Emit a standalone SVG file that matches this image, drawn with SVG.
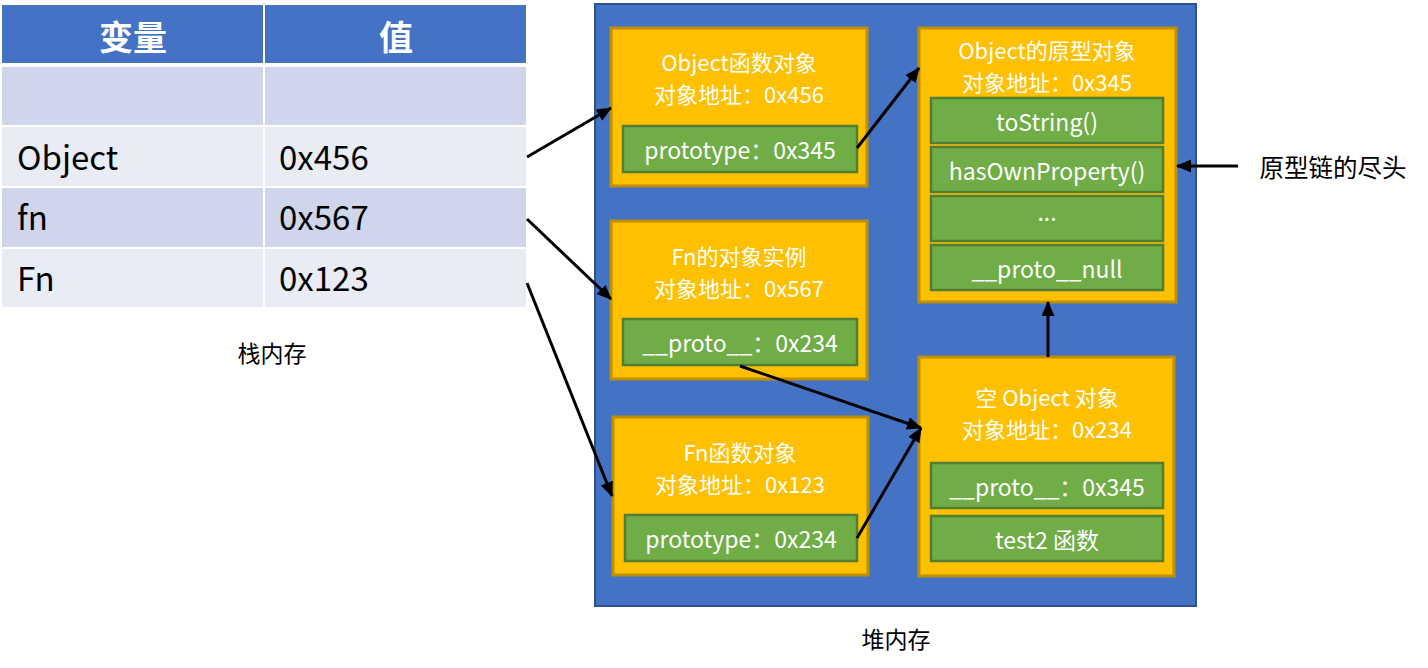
<svg xmlns="http://www.w3.org/2000/svg" width="1428" height="668" viewBox="0 0 1428 668">
<style>
text{font-family:"Noto Sans CJK SC","Noto Sans",sans-serif;}
.hd{fill:#4472C4;}
.r1{fill:#CFD5EA;}
.r2{fill:#E9EBF5;}
.ht{fill:#fff;font-size:34px;font-weight:bold;text-anchor:middle;dominant-baseline:central;}
.tt{fill:#000;font-size:33px;dominant-baseline:central;}
.lbl{fill:#000;font-size:23px;text-anchor:middle;dominant-baseline:central;}
.heap{fill:#4472C4;stroke:#2F528F;stroke-width:2;}
.obj{fill:#FFC000;stroke:#BF9000;stroke-width:3;}
.fld{fill:#70AD47;stroke:#507E32;stroke-width:2.5;}
.wt{fill:#fff;font-size:23px;text-anchor:middle;dominant-baseline:central;}
.wh{fill:#fff;font-size:22px;text-anchor:middle;dominant-baseline:central;}
.conn line{stroke:#000;stroke-width:3;marker-end:url(#ah);}
</style>
<defs>
<marker id="ah" markerUnits="userSpaceOnUse" markerWidth="16" markerHeight="14" refX="14" refY="6.5" orient="auto">
<path d="M0,0 L15,6.5 L0,13 z" fill="#000"/>
</marker>
</defs>
<rect width="1428" height="668" fill="#fff"/>

<g id="stack-table">
<rect class="hd" x="2" y="5" width="261" height="58"/>
<rect class="hd" x="265" y="5" width="261" height="58"/>
<text class="ht" x="133" y="35">变量</text>
<text class="ht" x="396" y="35">值</text>
<rect class="r1" x="2" y="67" width="261" height="58"/>
<rect class="r1" x="265" y="67" width="261" height="58"/>
<rect class="r2" x="2" y="127" width="261" height="59"/>
<rect class="r2" x="265" y="127" width="261" height="59"/>
<rect class="r1" x="2" y="188" width="261" height="59"/>
<rect class="r1" x="265" y="188" width="261" height="59"/>
<rect class="r2" x="2" y="249" width="261" height="58"/>
<rect class="r2" x="265" y="249" width="261" height="58"/>
<text class="tt" x="17" y="156">Object</text>
<text class="tt" x="279" y="156">0x456</text>
<text class="tt" x="17" y="216">fn</text>
<text class="tt" x="279" y="216">0x567</text>
<text class="tt" x="17" y="277">Fn</text>
<text class="tt" x="279" y="277">0x123</text>
</g>
<g id="stack-label"><text class="lbl" x="272" y="352">栈内存</text></g>

<g id="heap">
<rect class="heap" x="595" y="4" width="601" height="602"/>
</g>
<g id="heap-label"><text class="lbl" x="896" y="638">堆内存</text></g>

<g id="object-fn">
<rect class="obj" x="611" y="28" width="256" height="158"/>
<text class="wh" x="739" y="61">Object函数对象</text>
<text class="wh" x="739" y="93">对象地址：0x456</text>
<rect class="fld" x="623" y="126" width="234" height="46"/>
<text class="wt" x="740" y="149">prototype：0x345</text>
</g>

<g id="fn-instance">
<rect class="obj" x="611" y="221" width="256" height="158"/>
<text class="wh" x="739" y="255">Fn的对象实例</text>
<text class="wh" x="739" y="287">对象地址：0x567</text>
<rect class="fld" x="623" y="319" width="234" height="46"/>
<text class="wt" x="740" y="342">__proto__：0x234</text>
</g>

<g id="fn-fn">
<rect class="obj" x="613" y="417" width="255" height="158"/>
<text class="wh" x="740" y="451">Fn函数对象</text>
<text class="wh" x="740" y="483">对象地址：0x123</text>
<rect class="fld" x="625" y="515" width="232" height="46"/>
<text class="wt" x="741" y="538">prototype：0x234</text>
</g>

<g id="object-prototype">
<rect class="obj" x="919" y="28" width="257" height="274"/>
<text class="wh" x="1047" y="49">Object的原型对象</text>
<text class="wh" x="1047" y="81">对象地址：0x345</text>
<rect class="fld" x="931" y="98" width="232" height="45"/>
<text class="wt" x="1047" y="121">toString()</text>
<rect class="fld" x="931" y="147" width="232" height="45"/>
<text class="wt" x="1047" y="170">hasOwnProperty()</text>
<rect class="fld" x="931" y="196" width="232" height="45"/>
<text class="wt" x="1047" y="211">...</text>
<rect class="fld" x="931" y="245" width="232" height="45"/>
<text class="wt" x="1047" y="268">__proto__null</text>
</g>

<g id="empty-object">
<rect class="obj" x="919" y="357" width="255" height="219"/>
<text class="wh" x="1047" y="396">空 Object 对象</text>
<text class="wh" x="1047" y="428">对象地址：0x234</text>
<rect class="fld" x="931" y="463" width="232" height="45"/>
<text class="wt" x="1047" y="486">__proto__：0x345</text>
<rect class="fld" x="931" y="516" width="232" height="45"/>
<text class="wt" x="1047" y="539">test2 函数</text>
</g>

<g id="chain-end-label"><text class="lbl" x="1333" y="166" style="font-size:24.5px">原型链的尽头</text></g>

<g id="connectors" class="conn">
<line x1="527" y1="157" x2="611" y2="108"/>
<line x1="527" y1="219" x2="611" y2="299"/>
<line x1="527" y1="283" x2="612" y2="496"/>
<line x1="857" y1="148" x2="919" y2="68"/>
<line x1="740" y1="366" x2="921" y2="428"/>
<line x1="857" y1="538" x2="921" y2="428"/>
<line x1="1048" y1="357" x2="1048" y2="302"/>
<line x1="1238" y1="166" x2="1177" y2="166"/>
</g>
</svg>
